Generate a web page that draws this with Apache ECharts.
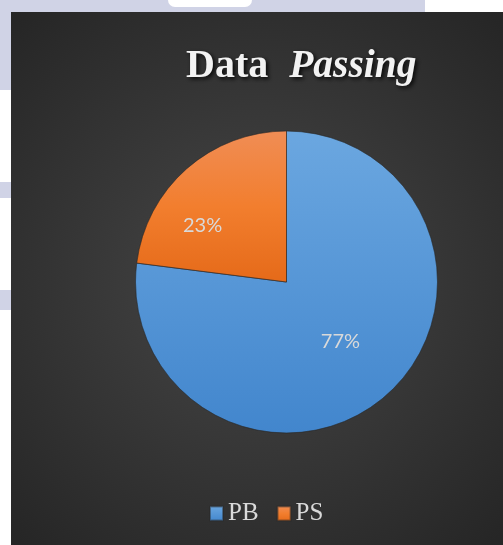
<!DOCTYPE html>
<html>
<head>
<meta charset="utf-8">
<script src="https://cdn.jsdelivr.net/npm/echarts@6/dist/echarts.min.js"></script>
<style>
  html, body { margin: 0; padding: 0; background: #fff; }
  body { width: 503px; height: 545px; position: relative; overflow: hidden; }
  .strip { position: absolute; background: #d0d3e6; }
  .gap { position: absolute; background: #fff; }
  #chart { position: absolute; left: 11px; top: 12px; width: 492px; height: 533px; }
</style>
</head>
<body>
<div class="strip" style="left:0;top:0;width:425px;height:12px"></div>
<div class="gap" style="left:168px;top:0;width:84px;height:7px;border-radius:0 0 30px 30px"></div>
<div class="strip" style="left:0;top:0;width:11px;height:90px"></div>
<div class="strip" style="left:0;top:182px;width:11px;height:16px"></div>
<div class="strip" style="left:0;top:290px;width:11px;height:20px"></div>
<div id="chart"></div>
<script>
// pie data
const categories = ['PB', 'PS']
const values = [77, 23]

const chart = echarts.init(document.getElementById('chart'))

const shadow = {
  textShadowColor: 'rgba(0,0,0,0.85)',
  textShadowBlur: 4,
  textShadowOffsetX: 2,
  textShadowOffsetY: 2
}

const option = {
  backgroundColor: new echarts.graphic.RadialGradient(0.5, 0.5, 0.72, [
    { offset: 0, color: '#474747' },
    { offset: 1, color: '#262626' }
  ]),
  title: {
    text: '{a|Data}{b|Passing}',
    left: 170,
    top: 30,
    textStyle: {
      rich: {
        a: Object.assign({
          fontFamily: 'Liberation Serif',
          fontWeight: 'bold',
          fontSize: 40,
          color: '#f2f2f2',
          padding: [0, 21, 0, 0]
        }, shadow),
        b: Object.assign({
          fontFamily: 'Liberation Serif',
          fontWeight: 'bold',
          fontStyle: 'italic',
          fontSize: 39.5,
          color: '#f2f2f2'
        }, shadow)
      }
    }
  },
  legend: {
    data: categories,
    bottom: 14,
    left: 193,
    itemWidth: 13,
    itemHeight: 14,
    itemGap: 18,
    icon: 'rect',
    textStyle: {
      fontFamily: 'Liberation Serif',
      fontSize: 25,
      color: '#d9d9d9'
    }
  },
  series: [
    {
      type: 'pie',
      center: [275.5, 270],
      radius: 151,
      startAngle: 90,
      clockwise: true,
      avoidLabelOverlap: false,
      silent: true,
      label: {
        show: true,
        position: 'inside',
        formatter: '{c}%',
        fontFamily: 'Lato',
        fontSize: 20,
        color: '#d9d9d9'
      },
      labelLine: { show: false },
      itemStyle: {
        borderColor: 'rgba(40,40,40,0.45)',
        borderWidth: 0.8
      },
      data: [
        {
          name: categories[0],
          value: values[0],
          label: { offset: [2, 1] },
          itemStyle: {
            color: new echarts.graphic.LinearGradient(0, 0, 0, 1, [
              { offset: 0, color: '#6ba7e0' },
              { offset: 1, color: '#4286cd' }
            ])
          }
        },
        {
          name: categories[1],
          value: values[1],
          label: { offset: [-32, 2] },
          itemStyle: {
            color: new echarts.graphic.LinearGradient(0, 0, 0, 1, [
              { offset: 0, color: '#f08d55' },
              { offset: 0.5, color: '#f27e2e' },
              { offset: 1, color: '#e56a19' }
            ])
          }
        }
      ]
    }
  ]
}

chart.setOption(option)
</script>
</body>
</html>
